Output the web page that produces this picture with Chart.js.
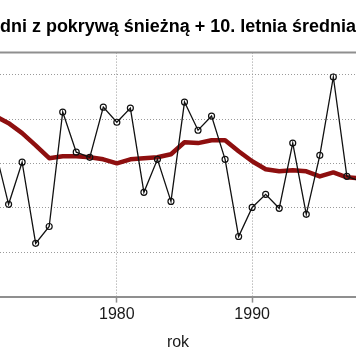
<!DOCTYPE html>
<html>
<head>
<meta charset="utf-8">
<script src="https://cdn.jsdelivr.net/npm/chart.js@4.4.1/dist/chart.umd.min.js"></script>
<style>
  html, body { margin: 0; padding: 0; background: #fff; }
  #wrap { width: 356px; height: 364px; position: relative; }
</style>
</head>
<body>
<div id="wrap"><canvas id="c" width="356" height="364"></canvas></div>
<script>
// Years shown (the original figure is cropped on both sides)
const years = [1971,1972,1973,1974,1975,1976,1977,1978,1979,1980,1981,1982,1983,1984,1985,1986,1987,1988,1989,1990,1991,1992,1993,1994,1995,1996,1997,1998];
// Number of days with snow cover
const snowDays = [66.4,41.6,60.6,24.0,31.6,83.2,65.1,62.8,85.4,78.6,85.0,47.0,61.9,42.9,87.7,75.0,81.4,61.9,27.1,40.2,46.1,39.8,69.2,37.1,63.7,99.0,54.2,52.0];
// 10-year moving average
const movingAvg = [81.4,78.2,73.7,68.2,62.4,63.3,63.3,62.8,61.9,60.1,61.9,62.4,62.8,64.2,69.6,69.2,70.5,70.5,65.5,61.0,57.4,56.5,57.0,56.5,54.2,56.0,53.8,53.3];
// Tick labels
const xTickYears = [1980, 1990];
const titleText = 'dni z pokrywą śnieżną + 10. letnia średnia';
const xTitleText = 'rok';

const FONT = "'Liberation Sans', Arial, Helvetica, sans-serif";

const topFrame = {
  id: 'topFrame',
  beforeDatasetsDraw(chart) {
    const {ctx, chartArea} = chart;
    ctx.save();
    ctx.strokeStyle = '#8f8f8f';
    ctx.lineWidth = 2;
    ctx.beginPath();
    ctx.moveTo(chartArea.left, chartArea.top);
    ctx.lineTo(chartArea.right, chartArea.top);
    ctx.stroke();
    ctx.restore();
  }
};

new Chart(document.getElementById('c'), {
  type: 'line',
  data: {
    datasets: [
      {
        label: 'dni z pokrywą śnieżną',
        data: years.map((y, i) => ({x: y, y: snowDays[i]})),
        borderColor: '#111',
        borderWidth: 1.3,
        pointRadius: 3,
        pointBorderWidth: 1.2,
        pointBorderColor: '#111',
        pointBackgroundColor: 'rgba(0,0,0,0)',
        tension: 0,
        order: 0
      },
      {
        label: '10. letnia średnia',
        data: years.map((y, i) => ({x: y, y: movingAvg[i]})),
        borderColor: '#8e0f0f',
        borderWidth: 4.5,
        pointRadius: 0,
        tension: 0,
        borderJoinStyle: 'round',
        order: 1
      }
    ]
  },
  options: {
    responsive: false,
    animation: false,
    devicePixelRatio: 1,
    layout: { autoPadding: false, padding: { left: 0, right: 0, top: 0, bottom: 0 } },
    plugins: {
      legend: { display: false },
      tooltip: { enabled: false },
      title: {
        display: true,
        text: titleText,
        align: 'start',
        color: '#000',
        font: { family: FONT, size: 18, weight: 'bold' },
        padding: { top: 16, bottom: 15 }
      }
    },
    scales: {
      x: {
        type: 'linear',
        min: 1971.365,
        max: 1997.675,
        afterBuildTicks: (scale) => { scale.ticks = xTickYears.map(v => ({value: v})); },
        ticks: {
          autoSkip: false,
          maxRotation: 0,
          color: '#1a1a1a',
          padding: 2,
          font: { family: FONT, size: 16 },
          callback: (v) => String(v)
        },
        grid: {
          color: '#9a9a9a',
          lineWidth: 1,
          drawTicks: true,
          tickLength: 6,
          tickColor: '#8f8f8f',
          tickWidth: 1.5,
          tickBorderDash: []
        },
        border: { display: true, color: '#8f8f8f', width: 2, dash: [1, 2] },
        title: {
          display: true,
          text: xTitleText,
          color: '#1a1a1a',
          font: { family: FONT, size: 16 },
          padding: { top: 7, bottom: 12 }
        }
      },
      y: {
        min: 0,
        max: 110,
        ticks: { display: false, stepSize: 20 },
        grid: { color: '#9a9a9a', lineWidth: 1, drawTicks: false },
        border: { display: false, dash: [1, 2] }
      }
    }
  },
  plugins: [topFrame]
});
</script>
</body>
</html>
